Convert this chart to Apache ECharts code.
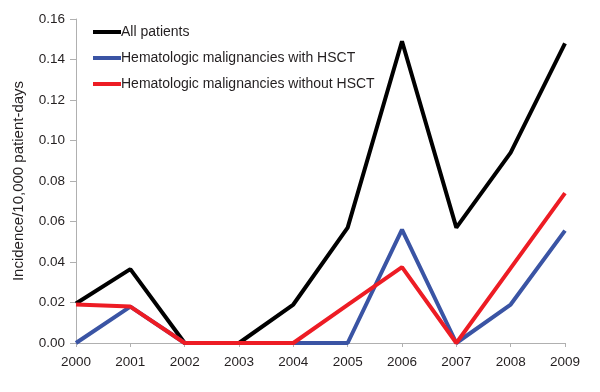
<!DOCTYPE html>
<html><head><meta charset="utf-8">
<script src="https://cdn.jsdelivr.net/npm/echarts@6/dist/echarts.min.js"></script>
<style>html,body{margin:0;padding:0;background:#fff}#c{width:600px;height:392px}</style>
</head><body><div id="c"></div>
<script>
const years = ['2000','2001','2002','2003','2004','2005','2006','2007','2008','2009'];
const allPatients = [0.0195, 0.0365, 0, 0, 0.019, 0.057, 0.149, 0.057, 0.094, 0.148];
const withHSCT = [0, 0.018, 0, 0, 0, 0, 0.056, 0, 0.019, 0.0555];
const withoutHSCT = [0.019, 0.018, 0, 0, 0, 0.0188, 0.0375, 0, 0.037, 0.074];
const names = ['All patients', 'Hematologic malignancies with HSCT', 'Hematologic malignancies without HSCT'];
const colors = ['#000000', '#3a54a4', '#ed1c24'];
const chart = echarts.init(document.getElementById('c'));
const font = 'Liberation Sans, Arial, sans-serif';
chart.setOption({
  animation: false,
  textStyle: {fontFamily: font},
  grid: {left: 76, right: 35, top: 19, bottom: 49},
  legend: {
    orient: 'vertical', left: 93, top: 24, itemGap: 10, padding: 0,
    itemWidth: 28, itemHeight: 4, icon: 'rect',
    textStyle: {fontFamily: font, fontSize: 14, lineHeight: 16, color: '#231f20', padding: [0,0,0,-5]},
    data: names
  },
  xAxis: {
    type: 'category', data: years, boundaryGap: false,
    axisLine: {lineStyle: {color: '#b0b0b0', width: 1}},
    axisTick: {show: true, alignWithLabel: true, length: 4, lineStyle: {color: '#b0b0b0'}},
    axisLabel: {color: '#231f20', fontSize: 13.5, fontFamily: font, margin: 12}
  },
  yAxis: {
    type: 'value', min: 0, max: 0.16, interval: 0.02,
    name: 'Incidence/10,000 patient-days', nameLocation: 'middle', nameGap: 50,
    nameTextStyle: {color: '#231f20', fontSize: 15, fontFamily: font},
    axisLine: {show: true, lineStyle: {color: '#b0b0b0', width: 1}},
    axisTick: {show: true, length: 6, lineStyle: {color: '#b0b0b0'}},
    splitLine: {show: false},
    axisLabel: {color: '#231f20', fontSize: 13.5, fontFamily: font, margin: 11, formatter: v => v.toFixed(2)}
  },
  series: [
    {name: names[0], type: 'line', data: allPatients, symbol: 'none', lineStyle: {color: colors[0], width: 4}, itemStyle: {color: colors[0]}, z: 3},
    {name: names[1], type: 'line', data: withHSCT, symbol: 'none', lineStyle: {color: colors[1], width: 4}, itemStyle: {color: colors[1]}, z: 4},
    {name: names[2], type: 'line', data: withoutHSCT, symbol: 'none', lineStyle: {color: colors[2], width: 4}, itemStyle: {color: colors[2]}, z: 5}
  ]
});
</script></body></html>
